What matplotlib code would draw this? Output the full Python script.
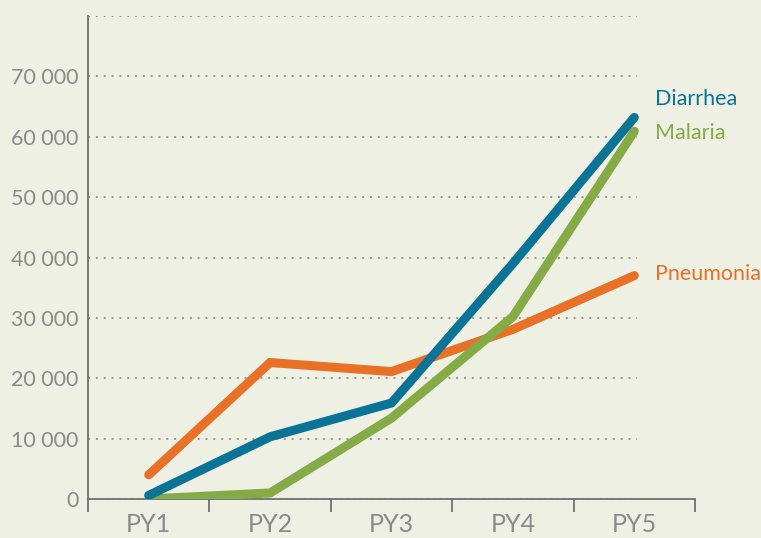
import matplotlib
matplotlib.use("Agg")
import matplotlib.pyplot as plt
from matplotlib.ticker import FuncFormatter, FixedLocator

categories = ["PY1", "PY2", "PY3", "PY4", "PY5"]
diarrhea = [600, 10300, 15900, 39000, 63200]
malaria = [0, 1000, 13400, 30200, 60900]
pneumonia = [4000, 22600, 21100, 28100, 37000]
series_names = ["Diarrhea", "Malaria", "Pneumonia"]
colors = ["#0b7396", "#84ab45", "#e87127"]
yticks = [0, 10000, 20000, 30000, 40000, 50000, 60000, 70000]
grid_levels = [10000, 20000, 30000, 40000, 50000, 60000, 70000, 80000]

bg = "#eef0e4"
gray = "#8a8a8a"
plt.rcParams['font.family'] = ['Lato', 'DejaVu Sans']

fig = plt.figure(figsize=(7.61, 5.38), dpi=100, facecolor=bg)
ax = fig.add_axes([88/761, 1-499/538, (695-88)/761, (499-16)/538])
ax.set_facecolor(bg)

x = list(range(len(categories)))
ax.set_xlim(-0.5, 4.5)
ax.set_ylim(0, 80000)

ax.hlines(grid_levels, -0.5, 4.02, colors="#8a8a8a", linestyles=(0, (1.2, 3.5)), linewidth=1.2, zorder=1)
ax.hlines([0], -0.5, 4.02, colors="#8a8a8a", linestyles=(0, (1.2, 2.5)), linewidth=1.2, zorder=1)

data = [diarrhea, malaria, pneumonia]
order = [2, 1, 0]
for i in order:
    ax.plot(x, data[i], color=colors[i], linewidth=6.5, solid_capstyle="round",
            solid_joinstyle="miter", zorder=3)

label_y = [66300, 60700, 37300]
for name, c, ly in zip(series_names, colors, label_y):
    ax.text(4.17, ly, name, color=c, fontsize=15.5,
            va="center", ha="left", clip_on=False)

for s in ["top", "right"]:
    ax.spines[s].set_visible(False)
for s in ["left", "bottom"]:
    ax.spines[s].set_color("#707070")
    ax.spines[s].set_linewidth(1.3)

ax.set_yticks(yticks)
ax.yaxis.set_major_formatter(FuncFormatter(lambda v, p: f"{int(v):,}".replace(",", " ")))
ax.tick_params(axis="y", length=0, pad=7, labelsize=15.5, labelcolor=gray)

ax.xaxis.set_major_locator(FixedLocator([-0.5, 0.5, 1.5, 2.5, 3.5, 4.5]))
ax.set_xticklabels([])
ax.xaxis.set_minor_locator(FixedLocator(x))
ax.set_xticklabels(categories, minor=True)
ax.tick_params(axis="x", which="major", length=9, width=1.3, color="#707070", direction="out")
ax.tick_params(axis="x", which="minor", length=0, pad=10, labelsize=18, labelcolor=gray)

fig.savefig("out.png", dpi=100, facecolor=bg)
